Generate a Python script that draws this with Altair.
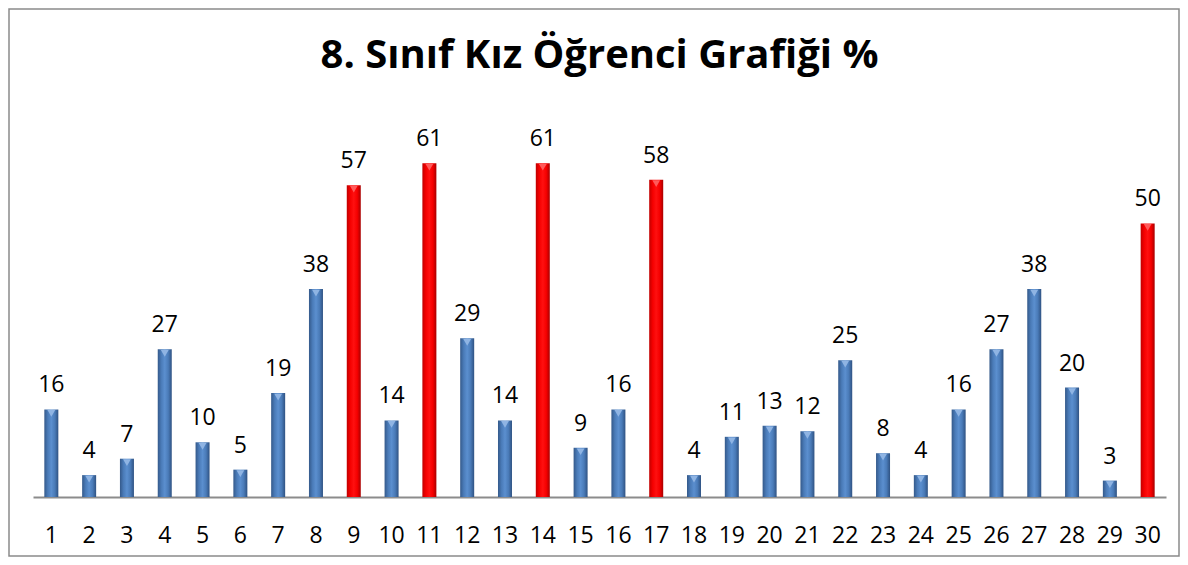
import altair as alt
import pandas as pd

classes = [str(i) for i in range(1, 31)]
values = [16, 4, 7, 27, 10, 5, 19, 38, 57, 14, 61, 29, 14, 61, 9, 16, 58, 4, 11, 13,
          12, 25, 8, 4, 16, 27, 38, 20, 3, 50]
highlight = ["9", "11", "14", "17", "30"]
title_text = "8. Sınıf Kız Öğrenci Grafiği %"

df = pd.DataFrame({"sinif": classes, "deger": values})
df["grup"] = ["kirmizi" if c in highlight else "mavi" for c in classes]

W, H = 1133, 383
PL, PR, PT, PB = 25, 14, 106, 60

blue_grad = alt.LinearGradient(
    gradient="linear", x1=0, x2=1, y1=0, y2=0,
    stops=[alt.GradientStop(color="#34598a", offset=0),
           alt.GradientStop(color="#4a7bb8", offset=0.25),
           alt.GradientStop(color="#5b8fcf", offset=0.5),
           alt.GradientStop(color="#4a7bb8", offset=0.75),
           alt.GradientStop(color="#2f5282", offset=1)])
red_grad = alt.LinearGradient(
    gradient="linear", x1=0, x2=1, y1=0, y2=0,
    stops=[alt.GradientStop(color="#c00000", offset=0),
           alt.GradientStop(color="#f50000", offset=0.25),
           alt.GradientStop(color="#ff1010", offset=0.5),
           alt.GradientStop(color="#f50000", offset=0.75),
           alt.GradientStop(color="#a80000", offset=1)])

x = alt.X("sinif:N", sort=classes, title=None,
          scale=alt.Scale(paddingInner=0.63, paddingOuter=0.3),
          axis=alt.Axis(labelAngle=0, ticks=False, labelFontSize=23, labelFont="Open Sans",
                        labelColor="black", labelPadding=27, domainColor="#8c8c8c",
                        domainWidth=2))
y = alt.Y("deger:Q", scale=alt.Scale(domain=[0, 70]), axis=None)

base = alt.Chart(df)

blue = base.transform_filter(alt.datum.grup == "mavi").mark_bar(
    color=blue_grad, size=14).encode(x=x, y=y)
red = base.transform_filter(alt.datum.grup == "kirmizi").mark_bar(
    color=red_grad, size=14).encode(x=x, y=y)

tri_blue = base.transform_filter(alt.datum.grup == "mavi").mark_point(
    shape="triangle-down", filled=True, size=60, yOffset=4, color="#8fb4e3", opacity=1
).encode(x=x, y=y)
tri_red = base.transform_filter(alt.datum.grup == "kirmizi").mark_point(
    shape="triangle-down", filled=True, size=60, yOffset=4, color="#ff5a5a", opacity=1
).encode(x=x, y=y)

labels = base.mark_text(baseline="alphabetic", dy=-17, fontSize=23, font="Open Sans",
                        color="black").encode(x=x, y=y, text="deger:Q")

one = alt.Chart(pd.DataFrame({"t": [title_text]}))

border = one.mark_rect(
    fill=None, stroke="#8a8a8a", strokeWidth=1.5, clip=False
).encode(x=alt.value(-PL + 1), x2=alt.value(W + PR - 1),
         y=alt.value(-PT + 1), y2=alt.value(H + PB - 1))

title = one.mark_text(font="Open Sans", fontSize=40, fontWeight="bold", color="black",
                      align="center", baseline="alphabetic", clip=False
).encode(x=alt.value(W / 2), y=alt.value(-46), text="t:N")

chart = alt.layer(border, title, blue, red, tri_blue, tri_red, labels).properties(
    width=W, height=H,
    background="white",
    autosize=alt.AutoSizeParams(type="none"),
    padding={"left": PL, "right": PR, "top": PT, "bottom": PB},
).configure_view(stroke="transparent", strokeWidth=0)

chart.save("out.html", embed_options={"renderer": "svg", "actions": False})
